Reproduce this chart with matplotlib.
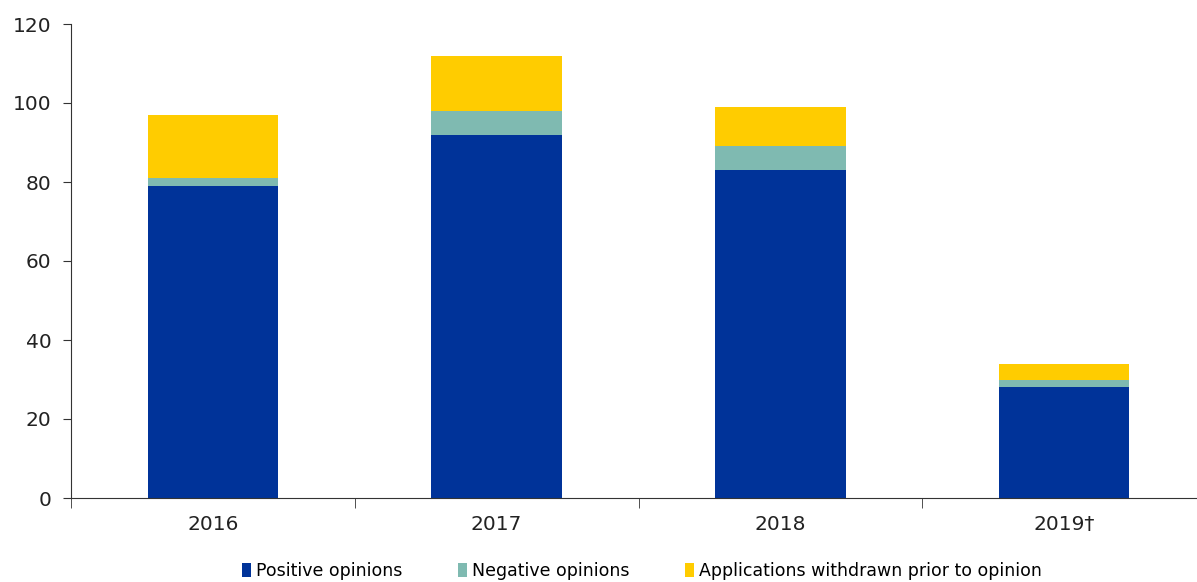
from matplotlib import pyplot as plt
import numpy as np

years = ['2016', '2017', '2018', '2019\u2020']
positive = [79, 92, 83, 28]
negative = [2, 6, 6, 2]
withdrawn = [16, 14, 10, 4]

fig = plt.figure(figsize=(11.97, 5.82), dpi=100)
ax = fig.add_axes([71 / 1197, 1 - 498 / 582, (1206 - 71) / 1197, (498 - 24) / 582])

x = np.arange(len(years))
w = 0.46
pos = np.array(positive)
neg = np.array(negative)
ax.bar(x, pos, width=w, color='#003399', label='Positive opinions')
ax.bar(x, neg, width=w, bottom=pos, color='#7FBAB1', label='Negative opinions')
ax.bar(x, withdrawn, width=w, bottom=pos + neg, color='#FFCC00',
       label='Applications withdrawn prior to opinion')

ax.set_xlim(-0.5, 3.5)
ax.set_ylim(0, 120)
ax.set_yticks(range(0, 121, 20))
ax.set_xticks(x)
ax.set_xticklabels(years)
ax.set_xticks([-0.5, 0.5, 1.5, 2.5], minor=True)
ax.tick_params(axis='x', which='major', length=0, pad=12, labelsize=14.5, labelcolor='#222222')
ax.tick_params(axis='x', which='minor', length=7, color='#333333')
ax.tick_params(axis='y', length=6, color='#333333', labelsize=14.5, labelcolor='#222222', pad=8)

for s in ['top', 'right']:
    ax.spines[s].set_visible(False)
for s in ['left', 'bottom']:
    ax.spines[s].set_color('#333333')

ax.legend(loc='center', bbox_to_anchor=(642 / 1197, 1 - 571 / 582),
          bbox_transform=fig.transFigure, ncol=3, frameon=False, fontsize=12.5,
          handlelength=0.5, handleheight=0.8, handletextpad=0.3, columnspacing=3.2)

fig.savefig('out.png')
